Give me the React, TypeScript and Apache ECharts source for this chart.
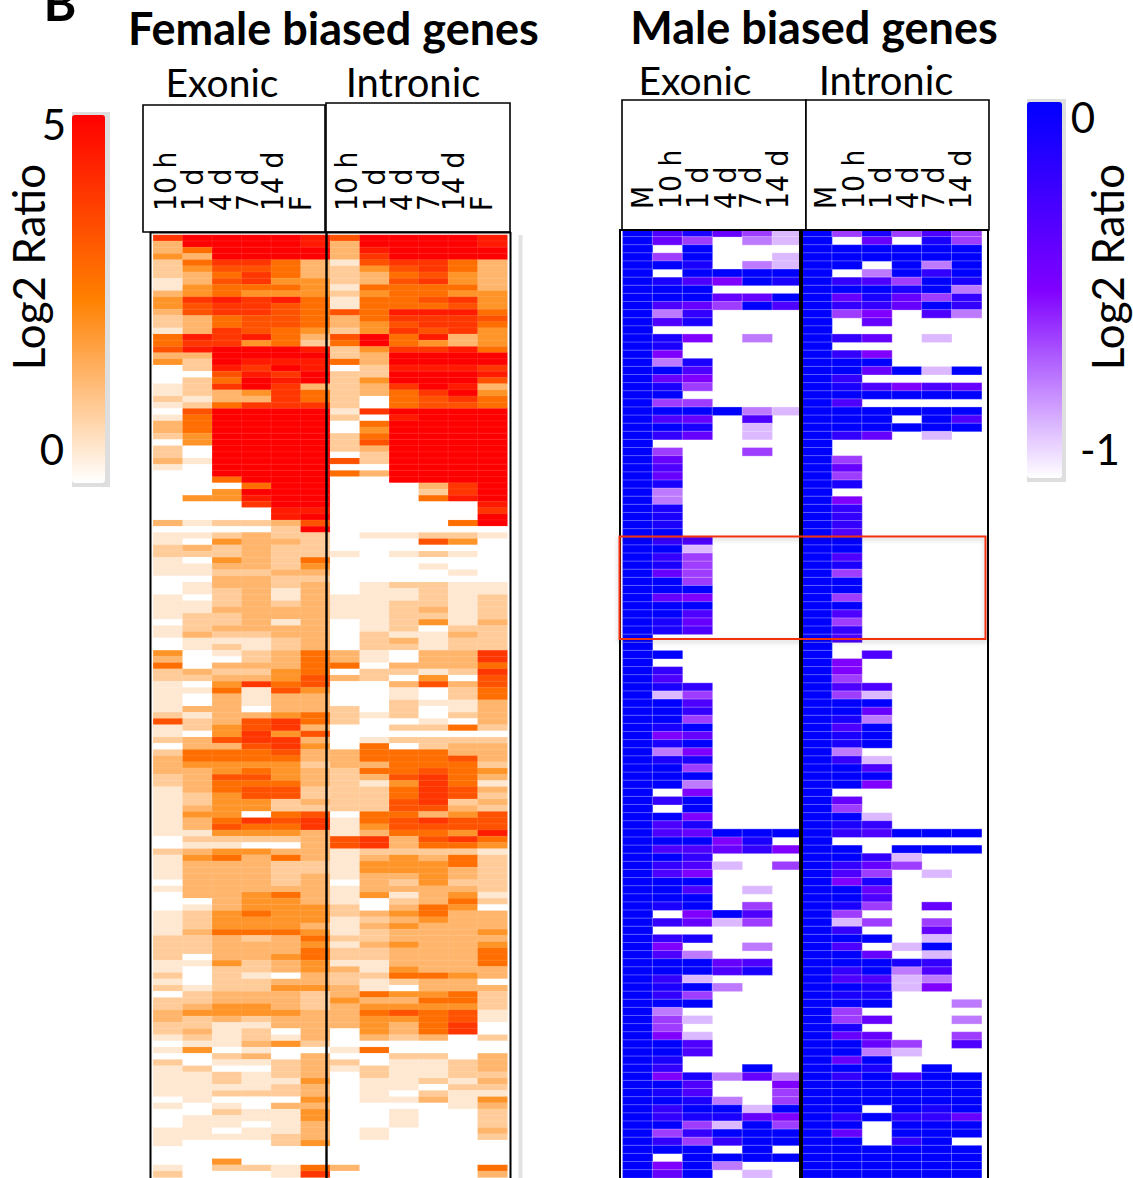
import React, { useEffect, useRef } from "react";
import * as echarts from "echarts";

// Each row: six exonic then six intronic samples, as levels 0..9.
const femaleRows = [
"799998 699998","399998 399998","359999 389999","439999 379999","257753 167753","246653 246753","235753 235643","136744 236743",
"145554 155553","345444 245544","478785 155674","467765 155564","367765 658885","235665 357776","235665 346775","137654 247674",
"587853 695834","577452 595434","689998 247785","339999 239999","429888 539999","028798 028887","006879 229998","025989 249996",
"127973 237983","123475 235794","213375 205675","125777 205665","069999 179999","159999 208999","359999 059999","359999 049999",
"249999 259999","049999 269999","209999 239999","209999 029999","319999 629999","109999 009999","009999 539999","005999 009999",
"000599 000379","004999 000279","044899 000589","000799 000008","000088 000007","000089 000009","312236 000059","000029 000000",
"112322 011221","104332 000640","232322 000000","222322 101210","104325 000000","113324 000100","112233 000010","003322 000000",
"013323 012211","012313 011211","102313 111212","112323 112212","113333 112312","122333 112212","022313 012413","123333 012022",
"132233 021132","011123 023122","012123 022122","401235 310337","300235 310337","503335 503335","232245 022127","223346 320406",
"104756 003636","115164 001025","103133 001025","103133 002113","133033 202013","213345 212023","623675 200103","124673 002252",
"104746 000000","236773 012222","033674 050233","255563 355533","355553 355563","344442 335552","334543 255654","236643 236753",
"235553 214751","135662 225763","124662 225762","124423 226723","134422 226632","144056 055346","135767 156766","136557 146666",
"114443 135548","022223 673675","011003 673554","234433 122221","145353 134352","133322 144452","133322 144432","133323 133432",
"033323 032422","133333 133332","033453 141341","003443 102352","013444 203540","124544 234533","124444 123433","124443 134333",
"135554 123334","223235 223333","223334 134334","223335 223335","203345 223335","114234 113335","102234 314333","202103 225543",
"102233 212330","212244 310333","023332 354452","223332 433552","234432 344442","344443 356561","323233 344561","221133 343570",
"231203 043570","121213 032302","011342 000000","140100 150000","002303 002203","201123 201123","120023 121123","112123 021122",
"112114 011213","111123 011022","112223 010211","010004 011314","101033 000013","002114 001002","011114 001002","011013 001002",
"110113 010003","111123 010002","100024 000000","000000 000000","000000 000000","004000 000000","102215 300005","200017 000003",
];

const maleRows = [
"968531 938363","953021 905083","909000 999999","939001 999999","998021 990929","909999 902979","986498 976398","999000 999892",
"999559 958537","965396 977597","927000 934062","968000 905000","900000 900000","984020 975010","980000 900000","940000 974000",
"928000 999000","996000 995919","954000 970000","983000 986465","990000 999999","933000 960000","999921 999999","965060 999096",
"998010 999999","975010 975010","900000 900000","930030 900000","950000 930000","960000 950000","950000 930000","980000 980000",
"920000 900000","920000 940000","980000 970000","980000 970000","980000 970000","990000 960000","976000 990000","991000 990000",
"973000 960000","983000 980000","953000 930000","993000 990000","999000 990000","954000 930000","999000 990000","996000 960000",
"985000 930000","986000 970000","900000 960000","900000 900000","990000 906000","900000 940000","970000 940000","960000 930000",
"987000 966000","913000 931000","996000 999000","997000 995000","993000 982000","989000 969000","945000 989000","989000 989000",
"924000 920000","988000 971000","993000 996000","999000 999000","992000 994000","904000 900000","979000 950000","909000 930000",
"994000 991000","968000 987000","965999 976999","999480 900000","966574 990999","997000 997100","976103 975300","964000 963010",
"999000 948000","996010 995000","999000 996000","989030 983050","904960 930000","975130 913030","900000 970050","978000 999010",
"940020 960190","962000 995010","999560 999870","999680 979260","971000 966120","989200 998140","973000 988000","999000 999002",
"920000 930000","931000 935002","930000 980000","941000 955003","996000 995306","996000 992100","980000 959000","970090 998090",
"948252 979699","996004 999999","986003 999999","998203 999999","979919 990989","978854 979775","993193 990999","937999 950999",
"973799 990790","999090 999999","909999 999999","949200 999999","959010 999999",
];

const femaleLabels = ["10 h", "1 d", "4 d", "7 d", "14 d", "F"];
const maleLabels = ["M", "10 h", "1 d", "4 d", "7 d", "14 d"];
const columns = ["E1", "E2", "E3", "E4", "E5", "E6", "I1", "I2", "I3", "I4", "I5", "I6"];
// Log2 ratio
const femaleLevels = [0, 0.45, 1.0, 1.45, 2.1, 2.85, 3.4, 3.95, 4.5, 5];
const maleLevels = [null, -0.86, -0.74, -0.62, -0.5, -0.4, -0.3, -0.2, -0.1, 0];

const parse = (rows: string[]) => rows.map((r) => r.replace(" ", "").split("").map(Number));
const femaleValues = parse(femaleRows).map((r) => r.map((d) => femaleLevels[d]));
const maleValues = parse(maleRows).map((r) => r.map((d) => maleLevels[d]));

const toCells = (rows: (number | null)[][]) => {
  const out: [number, number, number][] = [];
  rows.forEach((r, y) => r.forEach((v, x) => { if (v !== null) out.push([x, y, v]); }));
  return out;
};

const TOP = 100;
const box = (x: number, y: number, w: number, h: number) => ({
  type: "rect", z: TOP, shape: { x, y, width: w, height: h },
  style: { fill: "#fff", stroke: "#000", lineWidth: 1.6 },
});
const vline = (x: number, y1: number, y2: number, w: number, c = "#000") => ({
  type: "line", z: TOP, shape: { x1: x, y1, x2: x, y2 }, style: { stroke: c, lineWidth: w },
});
const txt = (text: string, x: number, y: number, font: string, o: any = {}) => ({
  type: "text", z: TOP + 1, x, y, rotation: o.rotation ?? 0, scaleX: o.scaleX ?? 1,
  style: { text, font, fill: "#000", align: o.align ?? "center", verticalAlign: "middle" },
});
const UI = "Lato, 'Open Sans', sans-serif";
const sampleText = (labels: string[], xs: number[], y: number) =>
  labels.map((l, i) => txt(l, xs[i], y, "31px 'DejaVu Sans'", { rotation: Math.PI / 2, align: "left", scaleX: 0.86 }));

export default function App() {
  const ref = useRef<HTMLDivElement>(null);
  useEffect(() => {
    document.body.style.margin = "0";
    const chart = echarts.init(ref.current!, undefined, { renderer: "svg" });
    const axis = (data: any[], gridIndex: number, inverse = false) => ({
      type: "category" as const, data, gridIndex, show: false, inverse,
    });
    chart.setOption({
      animation: false,
      backgroundColor: "#fff",
      grid: [
        { left: 153.3, top: 235, width: 354, height: femaleRows.length * 6.2 },
        { left: 622.7, top: 228.7, width: 359, height: maleRows.length * 8.13 },
      ],
      xAxis: [axis(columns, 0), axis(columns, 1)],
      yAxis: [axis(femaleRows.map((_, i) => i), 0, true), axis(maleRows.map((_, i) => i), 1, true)],
      visualMap: [
        { type: "continuous", seriesIndex: 0, min: 0, max: 5, dimension: 2, left: 72, top: 115, itemWidth: 33, itemHeight: 368,
          calculable: false, realtime: false, hoverLink: false, text: ["", ""], showLabel: false, padding: 0, z: 20,
          inRange: { color: ["#ffffff", "#ff8000", "#ff0000"] } },
        { type: "continuous", seriesIndex: 1, min: -1, max: 0, dimension: 2, left: 1027, top: 102, itemWidth: 35, itemHeight: 376,
          calculable: false, realtime: false, hoverLink: false, text: ["", ""], showLabel: false, padding: 0, z: 20,
          inRange: { color: ["#ffffff", "#8000ff", "#0000ff"] } },
      ],
      series: [
        { type: "heatmap", xAxisIndex: 0, yAxisIndex: 0, data: toCells(femaleValues), progressive: 0,
          itemStyle: { borderWidth: 0.5, borderColor: "rgba(255,255,255,0.18)" } },
        { type: "heatmap", xAxisIndex: 1, yAxisIndex: 1, data: toCells(maleValues), progressive: 0,
          itemStyle: { borderWidth: 1, borderColor: "rgba(255,255,255,0.3)" } },
      ],
      graphic: { elements: [
        { type: "rect", z: 1, shape: { x: 72, y: 112, width: 38, height: 375 }, style: { fill: "#dedede" } },
        { type: "rect", z: 1, shape: { x: 1027, y: 99, width: 39, height: 383 }, style: { fill: "#dedede" } },
        box(143, 105, 182, 127), box(326, 103, 184, 129),
        box(622, 100, 184, 130), box(806, 100, 183, 130),
        vline(150.5, 232, 1178, 2), vline(510.5, 232, 1178, 2), vline(326.5, 232, 1178, 2.4),
        vline(520.5, 235, 1178, 4, "#e2e2e2"),
        vline(620, 230, 1178, 2), vline(988, 230, 1178, 2), vline(801, 230, 1178, 4),
        { type: "line", z: TOP, shape: { x1: 150, y1: 232.5, x2: 511, y2: 232.5 }, style: { stroke: "#000", lineWidth: 2 } },
        { type: "line", z: TOP, shape: { x1: 619, y1: 230, x2: 989, y2: 230 }, style: { stroke: "#000", lineWidth: 2 } },
        { type: "rect", z: TOP, shape: { x: 619.5, y: 536.5, width: 366, height: 102.5 },
          style: { fill: "none", stroke: "#f23010", lineWidth: 2, shadowBlur: 5, shadowColor: "rgba(0,0,0,0.25)", shadowOffsetY: 2 } },
        txt("B", 60, 2, `bold 50px ${UI}`),
        txt("Female biased genes", 333.5, 28, `bold 45px ${UI}`),
        txt("Male biased genes", 814, 27, `bold 45px ${UI}`),
        txt("Exonic", 222, 82, `39px ${UI}`), txt("Intronic", 413, 82, `40px ${UI}`),
        txt("Exonic", 695, 80, `39px ${UI}`), txt("Intronic", 886, 80, `40px ${UI}`),
        ...sampleText(femaleLabels, [165, 192, 220, 247, 272, 300], 211),
        ...sampleText(femaleLabels, [346, 374, 401, 428, 453, 481], 211),
        ...sampleText(maleLabels, [642, 670, 697, 725, 750, 777], 209),
        ...sampleText(maleLabels, [825, 853, 880, 907, 933, 960], 209),
        txt("Log2 Ratio", 28, 267, `44px ${UI}`, { rotation: Math.PI / 2 }),
        txt("Log2 Ratio", 1107, 267, `44px ${UI}`, { rotation: Math.PI / 2 }),
        txt("5", 54, 124, `42px ${UI}`), txt("0", 52, 449, `42px ${UI}`),
        txt("0", 1083, 117, `42px ${UI}`), txt("-1", 1100, 449, `42px ${UI}`),
      ] },
    });
    return () => chart.dispose();
  }, []);
  return <div ref={ref} style={{ width: 1133, height: 1178 }} />;
}
